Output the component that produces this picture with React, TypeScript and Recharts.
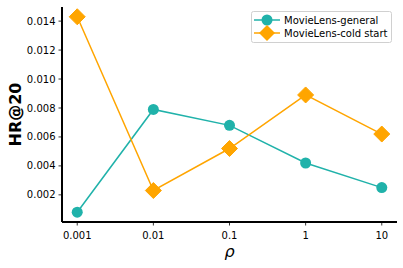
import { LineChart, Line, XAxis, YAxis, Legend, Label } from "recharts"

const RHO = ["0.001", "0.01", "0.1", "1", "10"]
const GENERAL = [0.0008, 0.0079, 0.0068, 0.0042, 0.0025]
const COLD_START = [0.0143, 0.0023, 0.0052, 0.0089, 0.0062]
const Y_TICKS = [0.002, 0.004, 0.006, 0.008, 0.01, 0.012, 0.014]

const TEAL = "#20b2aa"
const ORANGE = "#ffa500"

const data = RHO.map((r, i) => ({ idx: i, rho: r, general: GENERAL[i], cold: COLD_START[i] }))

const Diamond = (props: any) => {
  const { cx, cy, key } = props
  if (cx == null || cy == null) return null
  const s = 8
  return (
    <polygon
      key={key}
      points={`${cx},${cy - s} ${cx + s},${cy} ${cx},${cy + s} ${cx - s},${cy}`}
      fill={ORANGE}
      stroke={ORANGE}
    />
  )
}

const LegendBox = () => (
  <svg width={142} height={33} style={{ display: "block" }}>
    <rect x={0.5} y={0.5} width={140} height={31} rx={2} fill="#fff" stroke="#d0d0d0" />
    <line x1={3} x2={29} y1={9} y2={9} stroke={TEAL} strokeWidth={1.5} />
    <circle cx={16} cy={9} r={5.5} fill={TEAL} />
    <text x={33} y={12.5} fontSize={10} fill="#000" fontFamily="DejaVu Sans">MovieLens-general</text>
    <line x1={3} x2={29} y1={22} y2={22} stroke={ORANGE} strokeWidth={1.5} />
    <polygon points="16,14 24,22 16,30 8,22" fill={ORANGE} />
    <text x={33} y={25.5} fontSize={10} fill="#000" fontFamily="DejaVu Sans">MovieLens-cold start</text>
  </svg>
)

export default function App() {
  const tickStyle = { fill: "#000", fontSize: 10, fontFamily: "DejaVu Sans" }
  return (
    <div style={{ position: "absolute", left: 0, top: 0, width: 403, height: 268, background: "#fff" }}>
      <LineChart width={403} height={268} data={data} margin={{ top: 7, right: 6, bottom: 0, left: 0 }}>
        <XAxis
          dataKey="idx"
          type="number"
          domain={[-0.2, 4.2]}
          ticks={[0, 1, 2, 3, 4]}
          tickFormatter={(v: number) => RHO[v]}
          height={46}
          tickSize={3.5}
          tickMargin={6}
          tick={tickStyle}
          axisLine={{ stroke: "#000", strokeWidth: 2 }}
          tickLine={{ stroke: "#000", strokeWidth: 0.8 }}
        >
          <Label
            value="ρ"
            position="insideBottom"
            offset={11}
            style={{ fontSize: 16, fontStyle: "italic", fill: "#000", fontFamily: "DejaVu Sans" }}
          />
        </XAxis>
        <YAxis
          type="number"
          domain={[0.000125, 0.014975]}
          ticks={Y_TICKS}
          tickFormatter={(v: number) => v.toFixed(3)}
          width={62}
          tickSize={3.5}
          tickMargin={3}
          tick={tickStyle}
          axisLine={{ stroke: "#000", strokeWidth: 2 }}
          tickLine={{ stroke: "#000", strokeWidth: 0.8 }}
        >
          <Label
            value="HR@20"
            angle={-90}
            position="insideLeft"
            offset={15}
            style={{ fontSize: 16, fontWeight: "bold", fill: "#000", textAnchor: "middle", fontFamily: "DejaVu Sans" }}
          />
        </YAxis>
        <Legend
          verticalAlign="middle"
          align="center"
          content={() => <LegendBox />}
          wrapperStyle={{ position: "absolute", left: 251, top: 11, width: 142, height: 33 }}
        />
        <Line
          dataKey="general"
          stroke={TEAL}
          strokeWidth={1.5}
          dot={{ r: 5.5, fill: TEAL, stroke: TEAL, strokeWidth: 0 }}
          isAnimationActive={false}
        />
        <Line
          dataKey="cold"
          stroke={ORANGE}
          strokeWidth={1.5}
          dot={Diamond}
          isAnimationActive={false}
        />
      </LineChart>
    </div>
  )
}
